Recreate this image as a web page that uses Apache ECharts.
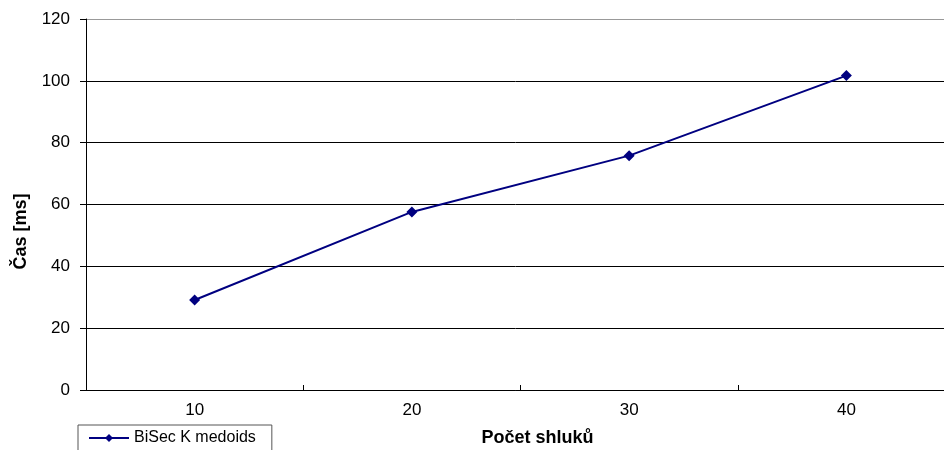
<!DOCTYPE html>
<html>
<head>
<meta charset="utf-8">
<script src="https://cdn.jsdelivr.net/npm/echarts@6/dist/echarts.min.js"></script>
<style>
  html, body { margin: 0; padding: 0; background: #fff; }
  #main { width: 944px; height: 450px; }
</style>
</head>
<body>
<div id="main"></div>
<script>
let categories = ["10", "20", "30", "40"];
let bisecValues = [29.1, 57.6, 75.8, 101.7];
let yTicks = [0, 20, 40, 60, 80, 100, 120];

let chartDom = document.getElementById("main");
let myChart = echarts.init(chartDom);
let font = "Liberation Sans, Arial, sans-serif";

let option = {
    animation: false,
    grid: {
        left: 86,
        top: 19,
        right: -11,
        bottom: 60,
        containLabel: false,
        outerBoundsMode: "none",
    },
    legend: {
        left: 78,
        top: 425,
        padding: [5, 16, 8, 10],
        borderColor: "#555",
        borderWidth: 1,
        itemWidth: 40,
        itemHeight: 10,
        itemGap: 4,
        textStyle: { fontFamily: font, fontSize: 16, color: "#000" },
        data: ["BiSec K medoids"],
    },
    xAxis: {
        type: "category",
        data: categories,
        boundaryGap: true,
        name: "Počet shluků",
        nameLocation: "middle",
        nameGap: 39,
        nameTextStyle: {
            fontFamily: font, fontSize: 18, fontWeight: "bold", color: "#000",
            padding: [0, 0, 0, 34],
        },
        axisLine: { lineStyle: { color: "#000", width: 1 } },
        axisTick: { show: true, length: 5, inside: true, lineStyle: { color: "#000" } },
        axisLabel: { fontFamily: font, fontSize: 17, color: "#000", margin: 12 },
        splitLine: { show: false },
    },
    yAxis: {
        type: "value",
        min: yTicks[0],
        max: yTicks[yTicks.length - 1],
        interval: 20,
        name: "Čas [ms]",
        nameLocation: "middle",
        nameGap: 56,
        nameRotate: 90,
        nameTextStyle: {
            fontFamily: font, fontSize: 18, fontWeight: "bold", color: "#000",
            padding: [0, 54, 0, 0],
        },
        axisLine: { show: true, lineStyle: { color: "#000", width: 1 } },
        axisTick: { show: true, length: 6, lineStyle: { color: "#000" } },
        axisLabel: { fontFamily: font, fontSize: 17, color: "#000", margin: 16 },
        splitLine: {
            show: true,
            lineStyle: {
                color: ["#000", "#000", "#000", "#000", "#000", "#000", "#999"],
                width: 1,
            },
        },
    },
    series: [
        {
            name: "BiSec K medoids",
            type: "line",
            data: bisecValues,
            symbol: "diamond",
            symbolSize: 11,
            itemStyle: { color: "#000080" },
            lineStyle: { color: "#000080", width: 2 },
        },
    ],
};

myChart.setOption(option);
</script>
</body>
</html>
